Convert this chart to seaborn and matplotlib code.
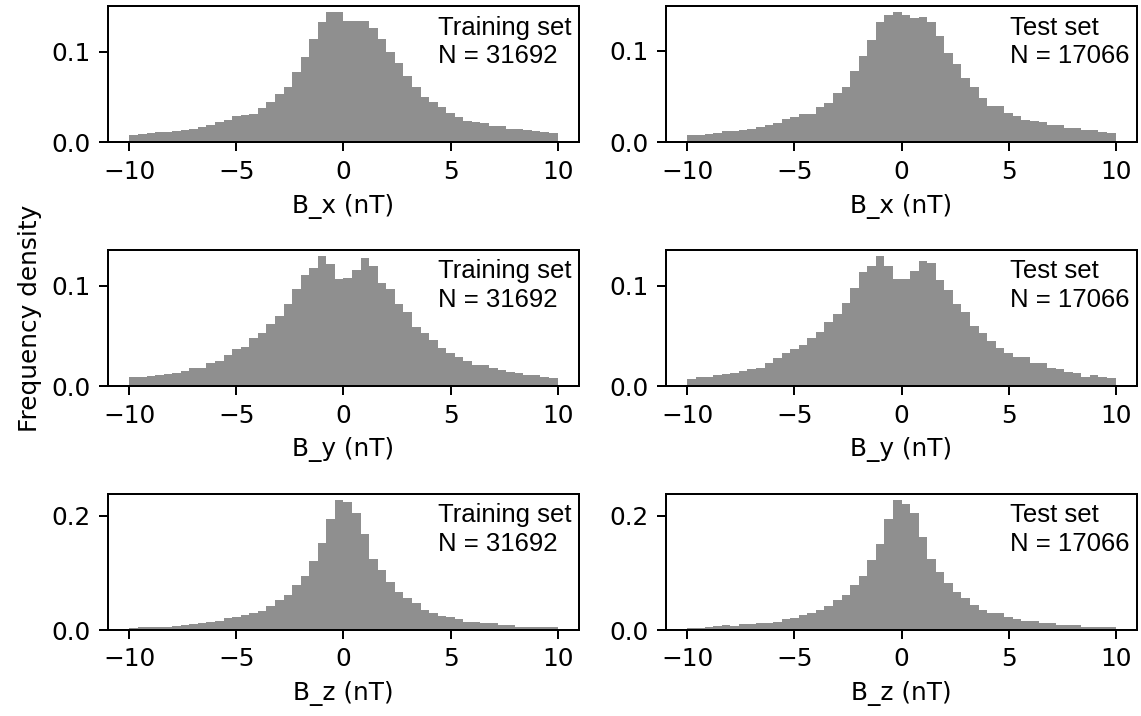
import numpy as np
import pandas as pd
import matplotlib
matplotlib.use("Agg")
import matplotlib.pyplot as plt
import seaborn as sns

# Bin layout: 50 bins from -10 to 10 nT
bin_lo, bin_hi, n_bins = -10.0, 10.0, 50

# Frequency density per bin
train_bx = [0.0084, 0.0092, 0.0103, 0.011, 0.012, 0.013, 0.014, 0.015, 0.017, 0.019,
            0.022, 0.025, 0.029, 0.030, 0.031, 0.038, 0.045, 0.053, 0.061, 0.078,
            0.094, 0.114, 0.132, 0.143, 0.143, 0.134, 0.134, 0.134, 0.126, 0.114,
            0.100, 0.087, 0.073, 0.061, 0.050, 0.045, 0.039, 0.032, 0.028, 0.024,
            0.022, 0.021, 0.018, 0.0176, 0.015, 0.015, 0.014, 0.013, 0.011, 0.010]
train_by = [0.0094, 0.0094, 0.010, 0.011, 0.0117, 0.0134, 0.0151, 0.0178, 0.0185, 0.0235,
            0.0255, 0.0312, 0.0369, 0.0389, 0.048, 0.053, 0.0624, 0.0698, 0.0815, 0.0966,
            0.111, 0.118, 0.1295, 0.122, 0.107, 0.108, 0.116, 0.1275, 0.120, 0.103,
            0.0966, 0.0815, 0.0738, 0.059, 0.053, 0.0463, 0.0379, 0.0329, 0.0295, 0.0255,
            0.0211, 0.0211, 0.0178, 0.0161, 0.0144, 0.0128, 0.011, 0.011, 0.0094, 0.0087]
train_bz = [0.0029, 0.0053, 0.0059, 0.0059, 0.0059, 0.007, 0.0088, 0.010, 0.0129, 0.014,
            0.0165, 0.0206, 0.0235, 0.0265, 0.0306, 0.034, 0.042, 0.052, 0.062, 0.079,
            0.095, 0.121, 0.153, 0.195, 0.228, 0.225, 0.206, 0.168, 0.125, 0.106,
            0.085, 0.066, 0.056, 0.048, 0.035, 0.029, 0.025, 0.022, 0.019, 0.0147,
            0.014, 0.013, 0.0118, 0.0088, 0.008, 0.0059, 0.0059, 0.0053, 0.0047, 0.0047]
test_bx = [0.0077, 0.0084, 0.0095, 0.0103, 0.012, 0.0128, 0.0139, 0.0147, 0.0165, 0.0194,
           0.0212, 0.026, 0.0278, 0.0311, 0.0311, 0.0388, 0.0432, 0.0542, 0.0608, 0.078,
           0.0945, 0.112, 0.132, 0.139, 0.142, 0.139, 0.1355, 0.1366, 0.132, 0.1158,
           0.098, 0.0853, 0.0707, 0.0608, 0.0487, 0.0403, 0.0403, 0.0322, 0.0286, 0.0249,
           0.023, 0.022, 0.0194, 0.0187, 0.0158, 0.0158, 0.0139, 0.0132, 0.011, 0.0103]
test_by = [0.0077, 0.0094, 0.0094, 0.0111, 0.0121, 0.0134, 0.0151, 0.0171, 0.0178, 0.0235,
           0.0279, 0.0329, 0.0369, 0.0413, 0.048, 0.0537, 0.0638, 0.0715, 0.0832, 0.0983,
           0.1134, 0.1195, 0.1295, 0.120, 0.107, 0.107, 0.115, 0.125, 0.123, 0.106,
           0.096, 0.0815, 0.0738, 0.060, 0.053, 0.0446, 0.0379, 0.0329, 0.0295, 0.0295,
           0.0235, 0.0235, 0.0178, 0.0168, 0.0144, 0.0128, 0.0094, 0.011, 0.0094, 0.0087]
test_bz = [0.0029, 0.0041, 0.0059, 0.007, 0.0088, 0.007, 0.010, 0.010, 0.0129, 0.0129,
           0.014, 0.0188, 0.0206, 0.0265, 0.0294, 0.0353, 0.0424, 0.0518, 0.0618, 0.0794,
           0.0953, 0.1235, 0.150, 0.195, 0.228, 0.2206, 0.206, 0.1635, 0.1247, 0.101,
           0.0824, 0.0659, 0.0559, 0.0441, 0.0353, 0.0294, 0.0294, 0.0235, 0.0188, 0.0165,
           0.0165, 0.0129, 0.0129, 0.0088, 0.0088, 0.0088, 0.0059, 0.0059, 0.0059, 0.0059]

components = ["B_x (nT)", "B_y (nT)", "B_z (nT)"]
set_names = ["Training set", "Test set"]
set_sizes = [31692, 17066]
ylabel = "Frequency density"

data = [[train_bx, test_bx], [train_by, test_by], [train_bz, test_bz]]

edges = np.linspace(bin_lo, bin_hi, n_bins + 1)
centers = (edges[:-1] + edges[1:]) / 2

W, H, DPI = 1141, 716, 178.28
fig, axes = plt.subplots(3, 2, figsize=(W / DPI, H / DPI), dpi=DPI)
fig.subplots_adjust(left=108 / W, right=1137 / W, bottom=1 - 630 / H, top=1 - 6 / H,
                    wspace=0.185, hspace=0.786)

for r in range(3):
    for c in range(2):
        ax = axes[r, c]
        df = pd.DataFrame({"x": centers, "w": data[r][c]})
        sns.histplot(data=df, x="x", weights="w", bins=n_bins,
                     binrange=(bin_lo, bin_hi), stat="count",
                     color="#8f8f8f", alpha=1.0, linewidth=0, ax=ax)
        ax.set_xlabel(components[r])
        ax.set_ylabel("")
        ax.set_xticks([-10, -5, 0, 5, 10])
        ax.text(0.985, 0.93, f"{set_names[c]}\nN = {set_sizes[c]}",
                transform=ax.transAxes, ha="right", va="top", multialignment="left",
                family="Liberation Sans", fontsize=10.4, linespacing=1.25)

axes[1, 0].set_ylabel(ylabel)

fig.savefig("out.png", dpi=DPI)
